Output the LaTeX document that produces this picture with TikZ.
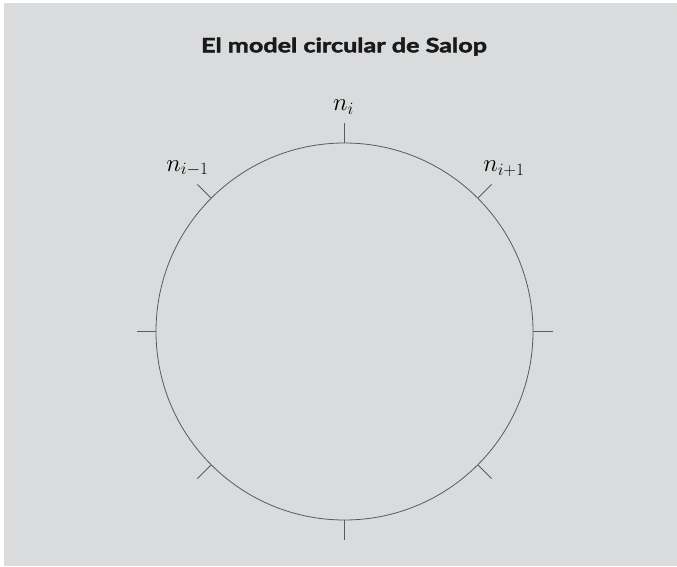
\documentclass[tikz,border=0pt]{standalone}
\usepackage{fontspec}
\usetikzlibrary{calc}
\newfontfamily\titlefont{Lato}[FakeStretch=1.27, BoldFeatures={FakeBold=2.2}]
\definecolor{bg}{HTML}{DADBDC}
\definecolor{ink}{HTML}{5A5A5A}
\tikzset{
  ring/.style={circle, draw=ink, line width=0.8pt, minimum size=377pt, inner sep=0pt},
  tick/.style={draw=ink, line width=0.8pt},
  lab/.style={anchor=base, inner sep=0pt, font=\fontsize{23}{26}\selectfont},
  ttl/.style={anchor=base, inner sep=0pt, text=black!90, font=\titlefont\bfseries\fontsize{19.8}{22}\selectfont}
}
\begin{document}
\begin{tikzpicture}[x=1pt,y=1pt]
\useasboundingbox (0,0) rectangle (677,566);
\fill[bg] (4,0) rectangle (677,563);
\node[ttl] (title) at (344,513.7) {El model circular de Salop};
\node[ring] (C) at (344.5,234.5) {};
\foreach \a in {0,45,...,315}{
  \coordinate (t\a) at ($(C.center)+(\a:208)$);
  \draw[tick] (C.\a) -- (t\a);
}
\node[lab] (ni) at (343.5,455) {$n_i$};
\node[lab] (nim) at (187.5,395) {$n_{i-1}$};
\node[lab] (nip) at (504,394) {$n_{i+1}$};
\end{tikzpicture}
\end{document}
